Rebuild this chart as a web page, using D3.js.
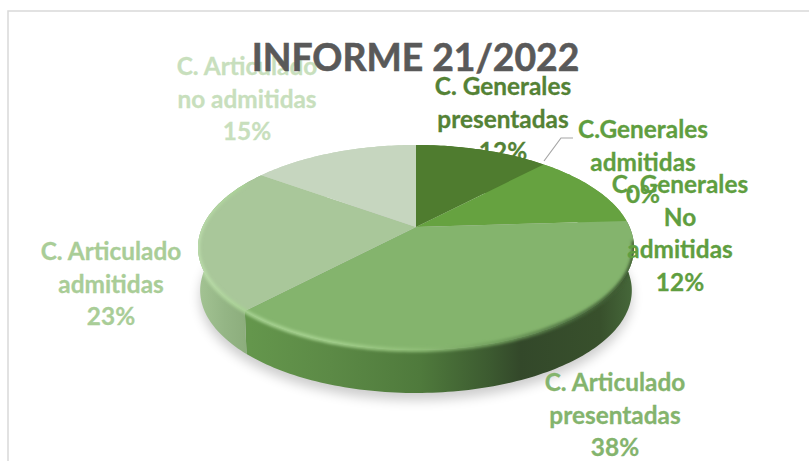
<!DOCTYPE html>
<html>
<head>
<meta charset="utf-8">
<script src="https://cdn.jsdelivr.net/npm/d3@7"></script>
<style>
html,body{margin:0;padding:0;background:#fff;overflow:hidden}
svg{display:block}
text{font-family:Lato,"Open Sans",sans-serif;font-weight:700;text-anchor:middle}
</style>
</head>
<body>
<svg id="c" width="809" height="461"></svg>
<script>
// ---- data
const titleText = "INFORME 21/2022";
const categories = [
  ["C. Generales","presentadas"],
  ["C.Generales","admitidas"],
  ["C. Generales","No","admitidas"],
  ["C. Articulado","presentadas"],
  ["C. Articulado","admitidas"],
  ["C. Articulado","no admitidas"]
];
const values = [12, 0, 12, 38, 23, 15];
const sliceColors = ["#4f7c2f","#66a240","#66a240","#84b46d","#a9c79a","#c6d6bf"];
const labelColors = ["#548235","#5f9e40","#5f9e40","#84b46d","#a9cd97","#c8dfbd"];
const labelCenters = [[503,95],[643,138],[680,193],[615,391],[111,260],[247,75]];

// ---- layout
const W = 809, H = 461;
const apex = {x:416, y:227}, persp = 0.2, hw = 213.6, hh = 98.4, depth = 43, lineH = 32.7;
const labelSize = 24.4, titleSize = 37.3;
const svg = d3.select("#c");
const defs = svg.append("defs");

function project(theta){
  const a = Math.sin(theta), b = -Math.cos(theta), d = 1 - persp*b;
  return [apex.x + hw*a/d, apex.y + hh*b/d];
}
// lower outline of the wall is slightly narrower than the top face
const lower = ([x,y]) => [414.5 + (x-414.5)*0.99, y + depth];
const arcs = d3.pie().sort(null).value(d=>d)(values);
const line = d3.line();
const samples = (a0,a1)=>{
  const n = Math.max(2, Math.ceil((a1-a0)/0.02));
  return d3.range(n+1).map(i=>a0+(a1-a0)*i/n);
};

// filters
const blur = (id,s)=>defs.append("filter").attr("id",id)
  .attr("x","-20%").attr("y","-20%").attr("width","140%").attr("height","140%")
  .append("feGaussianBlur").attr("stdDeviation",s);
blur("b6",6); blur("b2",1.6);

const grad = (id,stops)=>{
  const g = defs.append("linearGradient").attr("id",id).attr("gradientUnits","userSpaceOnUse")
    .attr("x1",190).attr("x2",640).attr("y1",0).attr("y2",0);
  stops.forEach(([x,c])=>g.append("stop").attr("offset",(x-190)/450).attr("stop-color",c));
};
grad("wallMain",[[250,"#64964c"],[330,"#5c8a46"],[420,"#4f7a3c"],[490,"#3c5a30"],[520,"#33482a"],[600,"#38502c"],[633,"#46683a"]]);
grad("wallLight",[[197,"#a4c494"],[225,"#94b585"],[252,"#8aab7a"]]);
grad("rim",[[197,"#bcdcac"],[250,"#a6d191"],[330,"#a3d08c"],[420,"#8fbe77"],[500,"#6f9c5b"],[570,"#4d7040"],[633,"#3c5830"]]);

const full = samples(0,2*Math.PI).map(project);
const fullLow = full.map(lower);
const clip = defs.append("clipPath").attr("id","disc");
clip.append("path").attr("d",line(full)+"Z");
clip.append("path").attr("d",line(fullLow)+"Z");
clip.append("path").attr("d",line(full.concat(fullLow.slice().reverse()))+"Z");

// frame
svg.append("rect").attr("x",8).attr("y",11).attr("width",W).attr("height",H)
  .attr("fill","#fff").attr("stroke","#d9d9d9").attr("stroke-width",1.5);

function drawLabel(g,i){
  const lines = categories[i].concat([values[i]+"%"]);
  g.append("text").attr("fill",labelColors[i]).attr("font-size",labelSize)
    .attr("stroke",labelColors[i]).attr("stroke-width",.3)
    .selectAll("tspan").data(lines).join("tspan")
    .attr("x",labelCenters[i][0])
    .attr("y",(d,k)=>labelCenters[i][1]+k*lineH)
    .text(d=>d);
}
// first label lies under the pie
drawLabel(svg.append("g"),0);

// ground shadow
svg.append("path").attr("d",line(fullLow.map(([x,y])=>[x,y+7])))
  .attr("fill","#000").attr("opacity",.2).attr("filter","url(#b6)");

// side wall
const wallFill = i => i===3 ? "url(#wallMain)" : i===4 ? "url(#wallLight)" : sliceColors[i];
svg.append("g").selectAll("path").data(arcs).join("path")
  .attr("d",d=>{
    const top = samples(d.startAngle,d.endAngle).map(project);
    return line(top.concat(top.map(lower).reverse()))+"Z";
  })
  .attr("fill",(d,i)=>wallFill(i));

// top faces
svg.append("g").selectAll("path").data(arcs).join("path")
  .attr("d",d=>line([[apex.x,apex.y]].concat(samples(d.startAngle,d.endAngle).map(project)))+"Z")
  .attr("fill",(d,i)=>sliceColors[i]);

// bevel on the rim, kept inside the disc outline
const rimPts = samples(arcs[3].startAngle+0.2, arcs[4].endAngle-0.12).map(project);
svg.append("g").attr("clip-path","url(#disc)")
  .append("path").attr("d",line(rimPts))
  .attr("fill","none").attr("stroke","url(#rim)").attr("stroke-width",4).attr("filter","url(#b2)");

// leader line
svg.append("polyline").attr("points",[[544,161],[561,138],[573,138]].join(" "))
  .attr("fill","none").attr("stroke","#a6a6a6").attr("stroke-width",1.2);

// remaining labels
const over = svg.append("g");
[1,2,3,4,5].forEach(i=>drawLabel(over,i));

// title
svg.append("text").attr("x",415.5).attr("y",71).attr("fill","#595959")
  .attr("stroke","#595959").attr("stroke-width",.6)
  .attr("font-size",titleSize).text(titleText);
</script>
</body>
</html>
